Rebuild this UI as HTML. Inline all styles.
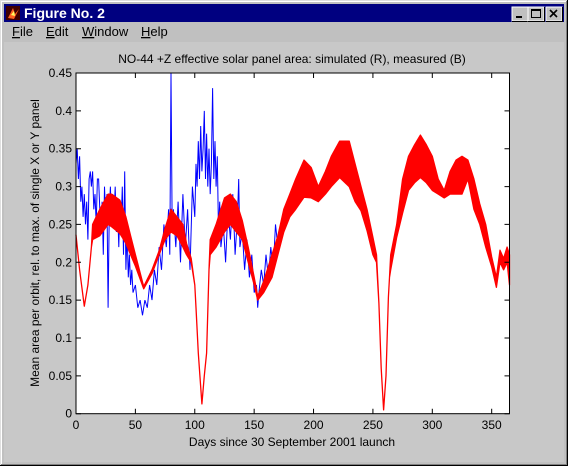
<!DOCTYPE html>
<html><head><meta charset="utf-8">
<style>
html,body{margin:0;padding:0;width:568px;height:466px;overflow:hidden;background:#c0c0c0;}
svg{display:block;font-family:"Liberation Sans",Arial,sans-serif;}
</style></head>
<body>
<svg id="fig" width="568" height="466" viewBox="0 0 568 466">
  <rect x="0" y="0" width="568" height="466" fill="#c0c0c0"/>
  <line x1="0.5" y1="0" x2="0.5" y2="466" stroke="#dfdfdf"/><line x1="0" y1="0.5" x2="568" y2="0.5" stroke="#dfdfdf"/>
  <line x1="1.5" y1="1" x2="1.5" y2="465" stroke="#fff"/><line x1="1" y1="1.5" x2="567" y2="1.5" stroke="#fff"/>
  <line x1="567.5" y1="0" x2="567.5" y2="466" stroke="#000"/><line x1="0" y1="465.5" x2="568" y2="465.5" stroke="#000"/>
  <line x1="566.5" y1="1" x2="566.5" y2="465" stroke="#808080"/><line x1="1" y1="464.5" x2="567" y2="464.5" stroke="#808080"/>
  <rect x="4" y="4" width="560" height="18" fill="#000080"/>
  <g>
    <rect x="6" y="6" width="14" height="14" fill="#400000"/>
    <path d="M8 18 L13 8 L15 14 L19 9 L14 19 Z" fill="#ff6020"/>
    <path d="M11 15 L14 11 L15 16 Z" fill="#ffff60"/>
  </g>
  <text x="24" y="18" fill="#fff" font-size="14" font-weight="bold">Figure No. 2</text>
  <g>
    <rect x="512" y="7" width="16" height="14" fill="#c0c0c0" stroke="#fff" stroke-width="1"/>
    <path d="M512 21.5 H528.5 V7" fill="none" stroke="#000"/>
    <rect x="516" y="16" width="6" height="2" fill="#000"/>
  </g>
  <g>
    <rect x="528" y="7" width="16" height="14" fill="#c0c0c0" stroke="#fff" stroke-width="1"/>
    <path d="M528 21.5 H544.5 V7" fill="none" stroke="#000"/>
    <rect x="531.5" y="9.5" width="9" height="8" fill="none" stroke="#000"/>
    <line x1="531" y1="10.5" x2="541" y2="10.5" stroke="#000"/>
  </g>
  <g>
    <rect x="546" y="7" width="16" height="14" fill="#c0c0c0" stroke="#fff" stroke-width="1"/>
    <path d="M546 21.5 H562.5 V7" fill="none" stroke="#000"/>
    <path d="M550 10 L557 17 M557 10 L550 17" stroke="#000" stroke-width="1.6"/>
  </g>
  <g font-size="13" fill="#000">
    <text x="12" y="36"><tspan text-decoration="underline">F</tspan>ile</text>
    <text x="46" y="36"><tspan text-decoration="underline">E</tspan>dit</text>
    <text x="82" y="36"><tspan text-decoration="underline">W</tspan>indow</text>
    <text x="141" y="36"><tspan text-decoration="underline">H</tspan>elp</text>
  </g>
  <rect x="4" y="42" width="560" height="420" fill="#c8c8c8"/>
  <text x="292" y="63" font-size="12" text-anchor="middle">NO-44 +Z effective solar panel area: simulated (R), measured (B)</text>
  <rect x="76" y="73" width="433.5" height="340.7" fill="#fff"/>
  <g id="marks"></g>
  <rect x="76" y="73" width="433.5" height="340.7" fill="none" stroke="#000" stroke-width="1"/>
  <g id="axes"></g>
  <text x="292" y="446" font-size="12" text-anchor="middle">Days since 30 September 2001 launch</text>
  <text transform="translate(39,243) rotate(-90)" font-size="12" text-anchor="middle">Mean area per orbit, rel. to max. of single X or Y panel</text>
</svg>
<script>
const xTicks = [0,50,100,150,200,250,300,350];
const yTicks = [0,0.05,0.1,0.15,0.2,0.25,0.3,0.35,0.4,0.45];
const yTickLabels = ["0","0.05","0.1","0.15","0.2","0.25","0.3","0.35","0.4","0.45"];
const redDays = [0,3,7,10,13,14,20,27,30,37,42,46,50,57,64,70,75,80,85,90,93,97,100,101,103,106,108,110,112,113,118,125,130,135,140,145,150,153,158,165,170,175,180,185,192,198,204,210,215,222,230,235,240,245,250,253,255,257,259,261,263,264,265,270,275,280,285,290,295,300,305,310,315,320,325,330,335,340,345,350,354,357,360,363,365];
const redLow  = [0.236,0.19,0.142,0.17,0.22,0.23,0.235,0.25,0.247,0.238,0.225,0.21,0.195,0.165,0.185,0.21,0.23,0.24,0.235,0.22,0.21,0.2,0.17,0.14,0.08,0.013,0.05,0.08,0.19,0.21,0.22,0.24,0.25,0.24,0.23,0.2,0.17,0.15,0.16,0.18,0.21,0.24,0.26,0.27,0.286,0.285,0.28,0.29,0.30,0.312,0.30,0.28,0.268,0.242,0.21,0.2,0.146,0.06,0.005,0.05,0.154,0.18,0.19,0.233,0.265,0.295,0.305,0.312,0.305,0.295,0.29,0.285,0.29,0.29,0.29,0.31,0.27,0.25,0.22,0.194,0.167,0.2,0.19,0.2,0.17];
const redHigh = [0.236,0.19,0.142,0.17,0.22,0.25,0.27,0.29,0.29,0.282,0.26,0.235,0.21,0.168,0.19,0.215,0.245,0.27,0.26,0.25,0.225,0.205,0.17,0.14,0.08,0.013,0.05,0.08,0.19,0.23,0.25,0.285,0.29,0.28,0.255,0.22,0.18,0.155,0.175,0.21,0.235,0.27,0.29,0.31,0.335,0.325,0.3,0.32,0.34,0.36,0.36,0.33,0.30,0.27,0.233,0.21,0.146,0.06,0.005,0.05,0.154,0.18,0.21,0.25,0.31,0.34,0.355,0.368,0.355,0.34,0.31,0.295,0.32,0.335,0.34,0.335,0.31,0.277,0.25,0.207,0.18,0.216,0.205,0.22,0.21];
const blueDays = [0,1,2,3,4,5,6,7,8,9,10,11,12,13,14,15,16,17,18,19,20,21,22,23,24,25,26,27,28,29,30,31,32,33,34,35,36,37,38,39,40,41,42,43,44,45,46,47,48,50,52,54,56,58,60,62,64,66,68,70,72,74,76,78,79,80,81,82,84,86,88,90,92,94,96,98,100,101,102,103,104,105,106,107,108,109,110,111,112,113,114,115,116,117,118,119,120,121,122,124,126,128,130,132,134,136,137,138,140,142,144,146,148,150,152,153,154,156,158,160,162,164,166,168,170];
const blueVals = [0.33,0.35,0.31,0.34,0.28,0.30,0.26,0.29,0.25,0.28,0.23,0.31,0.32,0.30,0.32,0.27,0.29,0.25,0.31,0.31,0.27,0.24,0.28,0.21,0.30,0.26,0.29,0.14,0.27,0.30,0.25,0.29,0.26,0.30,0.24,0.27,0.22,0.28,0.25,0.30,0.21,0.32,0.19,0.24,0.18,0.21,0.17,0.19,0.16,0.17,0.14,0.15,0.13,0.15,0.14,0.17,0.15,0.19,0.17,0.22,0.19,0.25,0.22,0.27,0.21,0.45,0.24,0.27,0.22,0.28,0.20,0.29,0.22,0.27,0.19,0.30,0.26,0.33,0.30,0.36,0.31,0.38,0.32,0.35,0.40,0.31,0.37,0.30,0.35,0.29,0.33,0.43,0.31,0.36,0.30,0.34,0.24,0.28,0.22,0.25,0.20,0.27,0.23,0.29,0.21,0.26,0.31,0.22,0.24,0.19,0.23,0.18,0.21,0.16,0.17,0.14,0.16,0.19,0.17,0.21,0.18,0.22,0.19,0.25,0.22];

const X0=76, X1=509.5, Y0=413.7, Y1=73;
const xScale = d => X0 + d*(X1-X0)/365;
const yScale = v => Y0 - v*(Y0-Y1)/0.45;
const NS='http://www.w3.org/2000/svg';
const marksG=document.getElementById('marks');
const axesG=document.getElementById('axes');

const bluePts = blueDays.map((d,i)=>xScale(d).toFixed(1)+','+yScale(blueVals[i]).toFixed(1)).join(' ');
const blueLine=document.createElementNS(NS,'polyline');


blueLine.setAttribute('points',bluePts);
blueLine.setAttribute('fill','none');
blueLine.setAttribute('stroke','#0000ff');
blueLine.setAttribute('stroke-width','1');
marksG.appendChild(blueLine);

const highPts = redDays.map((d,i)=>xScale(d).toFixed(1)+','+yScale(redHigh[i]).toFixed(1));
const lowPts = redDays.map((d,i)=>xScale(d).toFixed(1)+','+yScale(redLow[i]).toFixed(1)).reverse();
const redBand=document.createElementNS(NS,'polygon');


redBand.setAttribute('points',highPts.concat(lowPts).join(' '));
redBand.setAttribute('fill','#ff0000');
redBand.setAttribute('stroke','#ff0000');
redBand.setAttribute('stroke-width','1.3');
redBand.setAttribute('stroke-linejoin','round');
marksG.appendChild(redBand);

xTicks.forEach((t)=>{
  const x=xScale(t);
  const l=document.createElementNS(NS,'path');
  
  
  l.setAttribute('d',`M${x} ${Y0} V${Y0-5} M${x} ${Y1} V${Y1+5}`);
  l.setAttribute('stroke','#000');
  axesG.appendChild(l);
  const tx=document.createElementNS(NS,'text');
  
  
  tx.setAttribute('x',x);
  tx.setAttribute('y',429);
  tx.setAttribute('font-size','12');
  tx.setAttribute('text-anchor','middle');
  tx.textContent=String(t);
  axesG.appendChild(tx);
});
yTicks.forEach((t,i)=>{
  const y=yScale(t);
  const l=document.createElementNS(NS,'path');
  
  
  l.setAttribute('d',`M${X0} ${y} H${X0+5} M${X1} ${y} H${X1-5}`);
  l.setAttribute('stroke','#000');
  axesG.appendChild(l);
  const tx=document.createElementNS(NS,'text');
  
  
  tx.setAttribute('x',72);
  tx.setAttribute('y',y+4);
  tx.setAttribute('font-size','12');
  tx.setAttribute('text-anchor','end');
  tx.textContent=yTickLabels[i];
  axesG.appendChild(tx);
});
</script>
</body></html>
